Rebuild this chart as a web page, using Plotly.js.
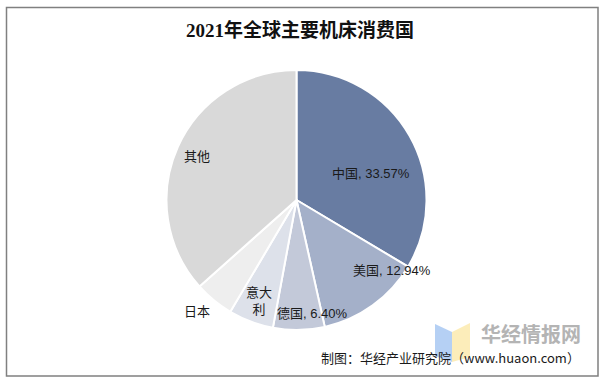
<!DOCTYPE html>
<html>
<head>
<meta charset="utf-8">
<script src="https://cdn.plot.ly/plotly-3.0.1.min.js"></script>
<style>html,body{margin:0;padding:0;background:#fff;}#chart{width:604px;height:385px;}</style>
</head>
<body>
<div id="chart"></div>
<script>
const categories = ["中国", "美国", "德国", "意大利", "日本", "其他"];
const shares = [33.57, 12.94, 6.40, 5.6, 4.9, 36.59];
const showPercent = [true, true, true, false, false, false];
const sliceColors = ["#687CA2", "#A4B0C9", "#C3C9D9", "#DDE1EA", "#EEEEEE", "#D9D9D9"];
const labelText = ["中国, 33.57%", "美国, 12.94%", "德国, 6.40%", "意大<br>利", "日本", "其他"];
// label anchor positions (pixels)
const labelPos = [[371,173],[392,270],[312,313],[259,301],[197,311],[197,156]];

const W = 604, H = 385;
const cx = 296.5, cy = 200, r = 130;

const trace = {
  type: 'pie',
  labels: categories,
  values: shares,
  sort: false,
  direction: 'clockwise',
  rotation: 0,
  marker: {colors: sliceColors, line: {color: '#ffffff', width: 2}},
  textinfo: 'none',
  hoverinfo: 'label+value',
  showlegend: false,
  domain: {x: [(cx - r) / W, (cx + r) / W], y: [(H - cy - r) / H, (H - cy + r) / H]}
};

const annotations = categories.map((c, i) => ({
  xref: 'paper', yref: 'paper',
  x: labelPos[i][0] / W, y: 1 - labelPos[i][1] / H,
  text: showPercent[i] ? `${c}, ${shares[i].toFixed(2)}%` : labelText[i],
  showarrow: false,
  xanchor: 'center', yanchor: 'middle',
  font: {family: 'Liberation Sans, Noto Sans CJK SC, sans-serif', size: 13, color: '#1a1a1a'}
}));

annotations.push({
  xref: 'paper', yref: 'paper', x: 300 / W, y: 1 - 30 / H,
  text: '<b>2021年全球主要机床消费国</b>', showarrow: false,
  xanchor: 'center', yanchor: 'middle',
  font: {family: 'Liberation Serif, Noto Sans CJK SC, serif', size: 19, color: '#111111'}
});
// watermark
annotations.push({
  xref: 'paper', yref: 'paper', x: 531 / W, y: 1 - 333 / H,
  text: '<b>华经情报网</b>', showarrow: false, xanchor: 'center', yanchor: 'middle',
  font: {family: 'Noto Sans CJK SC, sans-serif', size: 20, color: '#b4b4b4'}
});
annotations.push({
  xref: 'paper', yref: 'paper', x: 582 / W, y: 1 - 357 / H,
  text: '制图：华经产业研究院（www.huaon.com）', showarrow: false,
  xanchor: 'right', yanchor: 'middle',
  font: {family: 'Noto Sans CJK SC, sans-serif', size: 13, color: '#1a1a1a'}
});

const px = (x) => x / W, py = (y) => 1 - y / H;
const shapes = [
  {type: 'rect', xref: 'paper', yref: 'paper', x0: px(6.5), x1: px(598), y0: py(376), y1: py(7.5),
   line: {color: '#808080', width: 1.5}, fillcolor: 'rgba(0,0,0,0)', layer: 'above'},
  {type: 'path', xref: 'paper', yref: 'paper',
   path: `M ${px(435)} ${py(324)} L ${px(452)} ${py(332)} L ${px(452)} ${py(362)} L ${px(435)} ${py(356)} Z`,
   fillcolor: 'rgba(120,170,235,0.55)', line: {width: 0}, layer: 'below'},
  {type: 'path', xref: 'paper', yref: 'paper',
   path: `M ${px(452)} ${py(332)} L ${px(470)} ${py(323)} L ${px(470)} ${py(357)} L ${px(452)} ${py(362)} Z`,
   fillcolor: 'rgba(250,225,140,0.6)', line: {width: 0}, layer: 'below'}
];

const layout = {
  width: W, height: H,
  margin: {l: 0, r: 0, t: 0, b: 0},
  paper_bgcolor: '#ffffff',
  showlegend: false,
  annotations: annotations,
  shapes: shapes
};

Plotly.newPlot('chart', [trace], layout, {displayModeBar: false, staticPlot: true});
</script>
</body>
</html>
